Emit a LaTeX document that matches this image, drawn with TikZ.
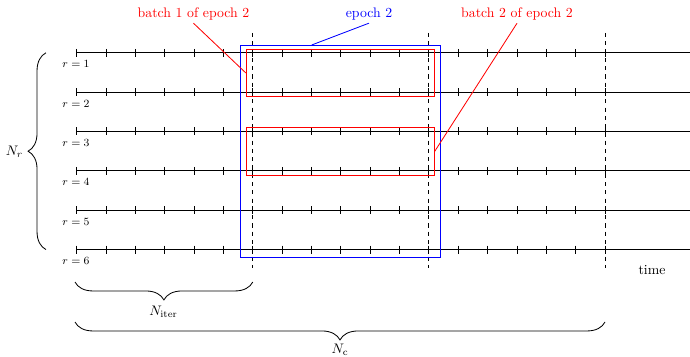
\documentclass[tikz,border=0pt]{standalone}
\usetikzlibrary{decorations.pathreplacing,fit}
\begin{document}
\begin{tikzpicture}[x=0.7246pt,y=-0.7246pt,
  timeline/.style={line width=0.6pt},
  tickmark/.style={line width=0.6pt},
  sep/.style={dashed, line width=0.6pt},
  batchbox/.style={draw=red, line width=0.6pt, inner sep=0pt},
  epochbox/.style={draw=blue, line width=0.6pt, inner sep=0pt},
  rlabel/.style={font=\footnotesize, inner sep=1pt},
  toplabel/.style={inner sep=2pt},
  bracestyle/.style={decorate, decoration={brace, amplitude=13pt}, line width=0.6pt}]
\useasboundingbox (0,0) rectangle (690,357);
% time lines with ticks
\foreach \i/\y in {1/52.8,2/92.2,3/131.5,4/170.9,5/210.2,6/249.6} {
  \coordinate (s\i) at (76.7,\y);
  \coordinate (e\i) at (690,\y);
  \draw[timeline] (s\i) -- (e\i);
  \foreach \k in {0,...,18} \draw[tickmark] ([shift={(\k*29.35,-4)}]s\i) -- ++(0,8);
  \node[rlabel] (r\i) at (76,\y+11.5) {$r=\i$};
}
% dashed epoch separators
\foreach \j/\x in {1/252.8,2/428.9,3/605} {
  \coordinate (dt\j) at (\x,33);
  \coordinate (db\j) at (\x,268);
  \draw[sep] (dt\j) -- (db\j);
}
% epoch and batch boxes
\node[epochbox, fit={(240.7,45) (440.3,257.3)}] (ep) {};
\node[batchbox, fit={(246.3,49.3) (434.3,96.7)}] (b1) {};
\node[batchbox, fit={(246.3,127.7) (434.3,175)}] (b2) {};
% labels
\node[toplabel, text=red] (lb1) at (193.5,14) {batch 1 of epoch 2};
\node[toplabel, text=blue] (lep) at (369,14) {epoch 2};
\node[toplabel, text=red] (lb2) at (517,14) {batch 2 of epoch 2};
\coordinate (epin) at (311.7,45);
\draw[red, line width=0.6pt] (b1.west) -- (lb1.south);
\draw[blue, line width=0.6pt] (epin) -- (lep.south);
\draw[red, line width=0.6pt] (b2.east) -- (lb2.south);
% braces
\coordinate (nrb) at (46,249.6);
\coordinate (nrt) at (46,52.8);
\draw[bracestyle] (nrb) -- (nrt);
\node (nr) at (14.5,151.7) {$N_r$};
\coordinate (nib) at (252.8,282);
\coordinate (nia) at (75,282);
\draw[bracestyle] (nib) -- (nia);
\node (ni) at (163.5,312) {$N_{\mathrm{iter}}$};
\coordinate (ncb) at (605,322);
\coordinate (nca) at (75,322);
\draw[bracestyle] (ncb) -- (nca);
\node (nc) at (340,350) {$N_{\mathrm{c}}$};
\node (tm) at (652,270) {time};
\end{tikzpicture}
\end{document}
